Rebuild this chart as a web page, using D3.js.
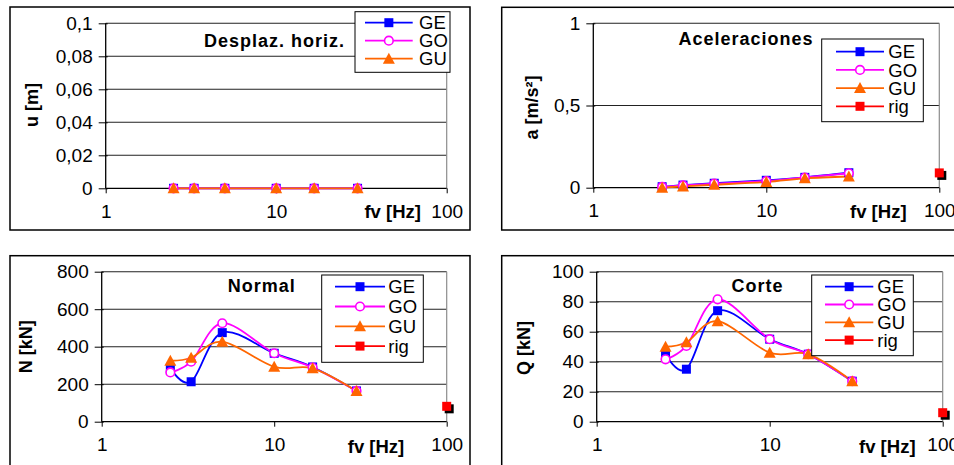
<!DOCTYPE html>
<html>
<head>
<meta charset="utf-8">
<script src="https://cdn.jsdelivr.net/npm/d3@7"></script>
<style>
  html, body { margin: 0; padding: 0; background: #fff; }
  svg { display: block; font-family: "Liberation Sans", Arial, sans-serif; }
</style>
</head>
<body>
<svg id="chart" width="954" height="465"></svg>
<script>
// ---------------- DATA ----------------
const fv = [2.5, 3.3, 5, 10, 16.7, 30];
const rigFv = [100];
const xTicks = [1, 10, 100];

const uGE = [0, 0, 0, 0, 0, 0];
const uGO = [0, 0, 0, 0, 0, 0];
const uGU = [0, 0, 0, 0, 0, 0];
const uTicks = [0, 0.02, 0.04, 0.06, 0.08, 0.1];

const aGE = [0.006, 0.016, 0.027, 0.045, 0.063, 0.091];
const aGO = [0.005, 0.014, 0.025, 0.040, 0.062, 0.088];
const aGU = [0.0, 0.008, 0.018, 0.035, 0.057, 0.068];
const aRig = [0.09];
const aTicks = [0, 0.5, 1];

const nGE = [285, 213, 475, 365, 292, 164];
const nGO = [263, 320, 525, 365, 289, 164];
const nGU = [325, 341, 427, 293, 285, 164];
const nRig = [82];
const nTicks = [0, 200, 400, 600, 800];

const qGE = [45, 35, 74, 55, 45, 27];
const qGO = [41.6, 50.5, 81.6, 55, 45, 27];
const qGU = [50, 53, 67, 46, 45, 27];
const qRig = [6];
const qTicks = [0, 20, 40, 60, 80, 100];

// ---------------- STYLE ----------------
const colors = { GE: "#0000FF", GO: "#FF00FF", GU: "#FF6600", rig: "#FF0000" };
const locale = d3.formatLocale({ decimal: ",", thousands: ".", grouping: [3], currency: ["", "€"] });
const fmt = locale.format("~g");

const svg = d3.select("#chart");

const panels = [
  { box: [10, 7, 460, 223], plot: { l: 105.7, r: 446.7, t: 23.3, b: 188.3 },
    ticks: uTicks, title: "Desplaz. horiz.", titlePos: [274.5, 47],
    ytitle: "u [m]", ytitlePos: [32, 105], fvPos: [392.7, 218],
    legend: { x: 355, y: 11.7, w: 95, h: 60.6, y0: 22.7, dy: 18, lx1: 365, lx2: 412.7, tx: 419 },
    series: [ ["GE", fv, uGE], ["GO", fv, uGO], ["GU", fv, uGU] ] },
  { box: [501.7, 7.3, 470, 222.7], plot: { l: 593.3, r: 939.3, t: 23.3, b: 187.7 },
    ticks: aTicks, title: "Aceleraciones", titlePos: [746, 45],
    ytitle: "a [m/s²]", ytitlePos: [531.7, 107.5], fvPos: [878.3, 218],
    legend: { x: 821.7, y: 39, w: 101.6, h: 82.7, y0: 51.7, dy: 18.2, lx1: 836, lx2: 884, tx: 888.3 },
    series: [ ["GE", fv, aGE], ["GO", fv, aGO], ["GU", fv, aGU], ["rig", rigFv, aRig] ] },
  { box: [10, 255.7, 460, 230], plot: { l: 101.7, r: 446.7, t: 271.7, b: 421.7 },
    ticks: nTicks, title: "Normal", titlePos: [261.8, 292.3],
    ytitle: "N [kN]", ytitlePos: [26, 346.7], fvPos: [376, 453],
    legend: { x: 321.7, y: 275, w: 101.6, h: 87.3, y0: 286.7, dy: 19.8, lx1: 335, lx2: 385, tx: 388.3 },
    series: [ ["GE", fv, nGE], ["GO", fv, nGO], ["GU", fv, nGU], ["rig", rigFv, nRig] ] },
  { box: [501.7, 255.7, 470, 230], plot: { l: 596.7, r: 942.7, t: 271.7, b: 421.7 },
    ticks: qTicks, title: "Corte", titlePos: [757.5, 292.3],
    ytitle: "Q [kN]", ytitlePos: [524, 348], fvPos: [887.3, 453],
    legend: { x: 811.7, y: 275, w: 101.6, h: 80.7, y0: 286.7, dy: 17.8, lx1: 825, lx2: 873.3, tx: 877.3 },
    series: [ ["GE", fv, qGE], ["GO", fv, qGO], ["GU", fv, qGU], ["rig", rigFv, qRig] ] }
];

function drawMarker(g, name, x, y) {
  const c = colors[name];
  if (name === "GE") {
    g.append("rect").attr("x", x - 4.5).attr("y", y - 4.5).attr("width", 9).attr("height", 9).attr("fill", c);
  } else if (name === "GO") {
    g.append("circle").attr("cx", x).attr("cy", y).attr("r", 4.3)
      .attr("fill", "#fff").attr("stroke", c).attr("stroke-width", 1.6);
  } else if (name === "GU") {
    g.append("path").attr("d", `M${x},${y - 6}L${x + 6},${y + 5}L${x - 6},${y + 5}Z`).attr("fill", c);
  } else if (name === "rig") {
    g.append("rect").attr("x", x - 2).attr("y", y - 2).attr("width", 9).attr("height", 9).attr("fill", "#000");
    g.append("rect").attr("x", x - 4.5).attr("y", y - 4.5).attr("width", 9).attr("height", 9).attr("fill", c);
  }
}

panels.forEach(p => {
  const g = svg.append("g");
  const [bx, by, bw, bh] = p.box;
  g.append("rect").attr("x", bx).attr("y", by).attr("width", bw).attr("height", bh)
    .attr("fill", "#fff").attr("stroke", "#000").attr("stroke-width", 1.5);

  const x = d3.scaleLog().domain([1, 100]).range([p.plot.l, p.plot.r]);
  const y = d3.scaleLinear().domain([0, d3.max(p.ticks)]).range([p.plot.b, p.plot.t]);

  // gridlines
  g.append("g").selectAll("line").data(p.ticks.filter(t => t !== 0)).join("line")
    .attr("x1", p.plot.l).attr("x2", p.plot.r)
    .attr("y1", d => y(d)).attr("y2", d => y(d))
    .attr("stroke", "#222").attr("stroke-width", 1.1);
  // right border of plot area
  g.append("line").attr("x1", p.plot.r).attr("x2", p.plot.r)
    .attr("y1", p.plot.t).attr("y2", p.plot.b).attr("stroke", "#8c8c8c").attr("stroke-width", 1.2);

  // y axis
  const ya = g.append("g").attr("transform", `translate(${p.plot.l},0)`)
    .call(d3.axisLeft(y).tickValues(p.ticks).tickFormat(fmt).tickSize(7).tickPadding(6));
  ya.select(".domain").attr("stroke", "#000").attr("stroke-width", 1.3).attr("d", `M0,${p.plot.t}V${p.plot.b}`);
  ya.selectAll(".tick line").attr("stroke", "#000").attr("x1", 2);
  ya.selectAll(".tick text").attr("font-size", 19).attr("fill", "#000")
    .attr("font-family", "Liberation Sans, Arial, sans-serif");

  // x axis
  const xa = g.append("g").attr("transform", `translate(0,${p.plot.b})`)
    .call(d3.axisBottom(x).tickValues(xTicks).tickFormat(d3.format("d")).tickSize(5).tickPadding(11));
  xa.select(".domain").attr("stroke", "#000").attr("stroke-width", 1.3).attr("d", `M${p.plot.l},0H${p.plot.r}`);
  xa.selectAll(".tick line").attr("stroke", "#000");
  xa.selectAll(".tick text").attr("font-size", 19).attr("fill", "#000")
    .attr("font-family", "Liberation Sans, Arial, sans-serif");

  // series lines
  const line = d3.line().curve(d3.curveCatmullRom.alpha(0)).x(d => x(d[0])).y(d => y(d[1]));
  p.series.forEach(([name, xs, ys]) => {
    const pts = xs.map((v, i) => [v, ys[i]]);
    if (pts.length > 1) {
      g.append("path").datum(pts).attr("d", line).attr("fill", "none")
        .attr("stroke", colors[name]).attr("stroke-width", 1.8);
    }
  });
  p.series.forEach(([name, xs, ys]) => {
    const mg = g.append("g");
    xs.forEach((v, i) => drawMarker(mg, name, x(v), y(ys[i])));
  });

  // title
  g.append("text").attr("x", p.titlePos[0]).attr("y", p.titlePos[1]).attr("text-anchor", "middle")
    .attr("font-size", 18).attr("font-weight", "bold").attr("letter-spacing", 1).text(p.title);

  // y title
  g.append("text").attr("transform", `translate(${p.ytitlePos[0]},${p.ytitlePos[1]}) rotate(-90)`)
    .attr("text-anchor", "middle").attr("dy", "0.35em")
    .attr("font-size", 18).attr("font-weight", "bold").text(p.ytitle);

  // x title
  g.append("text").attr("x", p.fvPos[0]).attr("y", p.fvPos[1]).attr("text-anchor", "middle")
    .attr("font-size", 18.5).attr("font-weight", "bold").text("fv [Hz]");

  // legend
  const L = p.legend;
  g.append("rect").attr("x", L.x).attr("y", L.y).attr("width", L.w).attr("height", L.h)
    .attr("fill", "#fff").attr("stroke", "#000").attr("stroke-width", 1);
  p.series.forEach(([name], i) => {
    const ly = L.y0 + i * L.dy;
    g.append("line").attr("x1", L.lx1).attr("x2", L.lx2).attr("y1", ly).attr("y2", ly)
      .attr("stroke", colors[name]).attr("stroke-width", 1.8);
    const mg = g.append("g");
    if (name === "rig") {
      mg.append("rect").attr("x", (L.lx1 + L.lx2) / 2 - 4.5).attr("y", ly - 4.5)
        .attr("width", 9).attr("height", 9).attr("fill", colors.rig);
    } else {
      drawMarker(mg, name, (L.lx1 + L.lx2) / 2, ly);
    }
    g.append("text").attr("x", L.tx).attr("y", ly).attr("dy", "0.36em")
      .attr("font-size", 18.5).text(name);
  });
});
</script>
</body>
</html>
